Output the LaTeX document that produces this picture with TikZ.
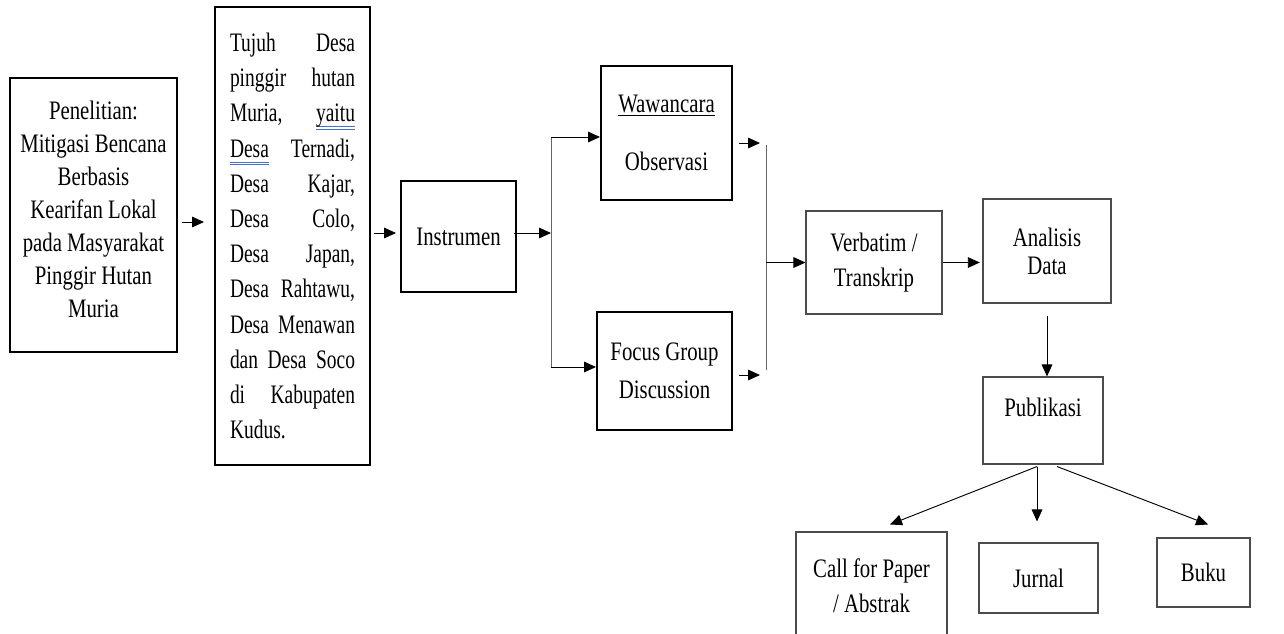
\documentclass[tikz,border=0pt]{standalone}
\usepackage{fontspec}
\setmainfont{Liberation Serif}[FakeStretch=0.78]
\newfontfamily\narrowserif{Liberation Serif}[FakeStretch=0.73]
\usepackage{xcolor}
\usetikzlibrary{arrows.meta}

\definecolor{markblue}{HTML}{4472C4}
\newcommand\spellmark[1]{\leavevmode\setbox0=\hbox{#1}\rlap{\color{markblue}\rule[-4pt]{\wd0}{0.6pt}}\rlap{\color{markblue}\rule[-5.8pt]{\wd0}{0.6pt}}\box0}
\newcommand\jline[1]{\makebox[\linewidth][l]{#1}}

\begin{document}
\begin{tikzpicture}[x=0.75pt,y=-0.75pt,
  boldbox/.style={draw,line width=1.5pt,align=center,inner sep=2pt},
  thinbox/.style={draw=black!70,line width=0.8pt,align=center,inner sep=2pt},
  flow/.style={-{Triangle[length=9pt,width=8pt]},line width=0.7pt},
  branch/.style={draw=black!60,line width=0.7pt}]
\useasboundingbox (0,0) rectangle (1284,633);
% boxes
\node [boldbox,minimum width=125pt,minimum height=205.5pt,text depth=9pt,font=\fontsize{20}{24.75}\selectfont] (riset) at (93.5,215)
  {Penelitian:\\Mitigasi Bencana\\Berbasis\\Kearifan Lokal\\pada Masyarakat\\Pinggir Hutan\\Muria};
\node [boldbox,align=left,text width=93.75pt,minimum width=116.25pt,minimum height=343.5pt,font=\narrowserif\fontsize{20}{26.4}\selectfont] (desa) at (292.5,236)
  {\jline{Tujuh\ \hfill Desa}\\
   \jline{pinggir\ \hfill hutan}\\
   \jline{Muria,\ \hfill \spellmark{yaitu}}\\
   \jline{\spellmark{Desa}\ \hfill Ternadi,}\\
   \jline{Desa\ \hfill Kajar,}\\
   \jline{Desa\ \hfill Colo,}\\
   \jline{Desa\ \hfill Japan,}\\
   \jline{Desa\ \hfill Rahtawu,}\\
   \jline{Desa\ \hfill Menawan}\\
   \jline{dan\ \hfill Desa\ \hfill Soco}\\
   \jline{di\ \hfill Kabupaten}\\
   Kudus.};
\node [boldbox,minimum width=86.25pt,minimum height=83.25pt,font=\fontsize{20}{25}\selectfont] (instr) at (458.5,236.5) {Instrumen};
\node [boldbox,minimum width=98.25pt,minimum height=100.5pt,font=\fontsize{20}{25}\selectfont] (wawan) at (666.5,133)
  {\underline{Wawancara}\\[18pt]Observasi};
\node [boldbox,minimum width=101.25pt,minimum height=88.5pt,font=\fontsize{20}{28.5}\selectfont] (fgd) at (664.5,371)
  {Focus Group\\Discussion};
\node [thinbox,minimum width=102pt,minimum height=77.25pt,font=\fontsize{20}{26.25}\selectfont] (verbat) at (874,262.5)
  {Verbatim /\\Transkrip};
\node [thinbox,minimum width=96pt,minimum height=78pt,font=\fontsize{20}{21}\selectfont] (analisis) at (1047,251)
  {Analisis\\Data};
\node [thinbox,minimum width=90pt,minimum height=65.25pt,text depth=20pt,font=\fontsize{20}{25}\selectfont] (publik) at (1043,420.5) {Publikasi};
\node [thinbox,minimum width=113.25pt,minimum height=81pt,font=\fontsize{20}{26.25}\selectfont] (cfp) at (871.5,586)
  {Call for Paper\\/ Abstrak};
\node [thinbox,minimum width=89.25pt,minimum height=52.5pt,font=\fontsize{20}{25}\selectfont] (jurnal) at (1038.5,578) {Jurnal};
\node [thinbox,minimum width=69.75pt,minimum height=51.75pt,font=\fontsize{20}{25}\selectfont] (buku) at (1203.5,572.5) {Buku};
% joints
\coordinate (fork) at (551,233);
\coordinate (forkup) at (551,137);
\coordinate (forkdn) at (551,367);
\coordinate (joinup) at (766,143);
\coordinate (joindn) at (766,375);
\coordinate (join) at (766,262.5);
% arrows
\draw[flow] ([shift={(4,7)}]riset.east) -- ([shift={(-10,-14)}]desa.west);
\draw[flow] ([shift={(3,-3)}]desa.east) -- ([shift={(-4,-3.5)}]instr.west);
\draw[flow] ([shift={(-3,-3.5)}]instr.east) -- (fork);
\draw[branch] (forkup) -- (forkdn);
\draw[flow] (forkup) -- ([shift={(0,4)}]wawan.west);
\draw[flow] (forkdn) -- ([shift={(0,-4)}]fgd.west);
\draw[flow] ([shift={(6,10)}]wawan.east) -- ([shift={(-6,0)}]joinup);
\draw[flow] ([shift={(6,4)}]fgd.east) -- ([shift={(-6,0)}]joindn);
\draw[branch] ([shift={(0,2)}]joinup) -- ([shift={(0,-5)}]joindn);
\draw[flow] (join) -- (verbat.west);
\draw[flow,shorten >=2pt] (verbat.east) -- (analisis.west |- verbat.east);
\draw[flow] ([shift={(0,12)}]analisis.south) -- ([shift={(4,0)}]publik.north);
\draw[flow] ([shift={(-6,2)}]publik.south) -- ([shift={(18.5,-7)}]cfp.north);
\draw[flow] ([shift={(-6,2)}]publik.south) -- ([shift={(-1.5,-21)}]jurnal.north);
\draw[flow] ([shift={(14,2)}]publik.south) -- ([shift={(4.5,-13)}]buku.north);
\end{tikzpicture}
\end{document}
